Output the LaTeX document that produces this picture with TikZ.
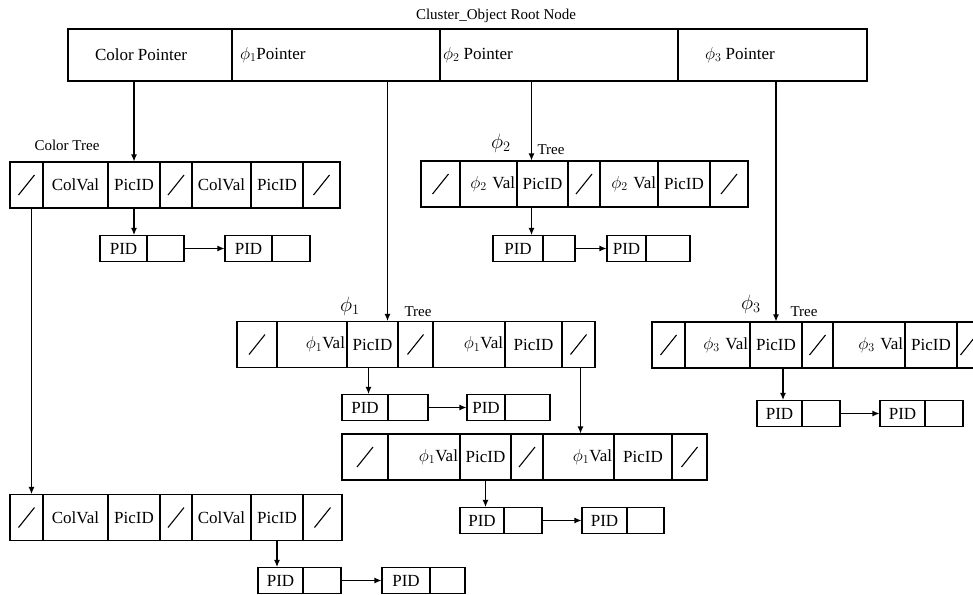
\documentclass[tikz,border=0pt]{standalone}
\usepackage{fontspec}
\setmainfont{Liberation Serif}
\usetikzlibrary{arrows.meta, positioning, calc}

\begin{document}
\begin{tikzpicture}[
    x=1pt, y=-1pt,
    line width=1.1pt,
    rootcell/.style={draw, inner sep=0pt, minimum height=52pt},
    cell/.style={draw, inner xsep=2pt, inner ysep=0pt, minimum height=46pt, align=center, font=\fontsize{17}{20}\selectfont},
    valcell/.style={cell, align=right},
    slashcell/.style={cell, path picture={\draw ([shift={(-8pt,-10pt)}]path picture bounding box.center) -- ([shift={(8pt,10pt)}]path picture bounding box.center);}},
    pidcell/.style={cell, minimum height=26pt},
    txt/.style={inner sep=0pt, font=\fontsize{17}{20}\selectfont},
    lbl/.style={inner sep=0pt, font=\fontsize{15}{18}\selectfont},
    philbl/.style={inner sep=0pt, font=\fontsize{22}{26}\selectfont},
    arrow/.style={-{Latex[length=7pt,width=6pt]}}
  ]
    \useasboundingbox (0,0) rectangle (973,594);

    % Root node
    \node[lbl] (title) at (496,16) {Cluster\_Object Root Node};
    \foreach \i/\xa/\xb in {1/68/232, 2/232/440, 3/440/678, 4/678/867} {
      \pgfmathsetmacro\w{\xb-\xa}
      \node[rootcell, minimum width=\w pt] (root\i) at ({(\xa+\xb)/2}, 55) {};
    }
    \node[txt, anchor=west] at ([xshift=27pt]root1.west) {Color Pointer};
    \node[txt, anchor=west] at ([xshift=8pt]root2.west) {$\phi_1$Pointer};
    \node[txt, anchor=west] at ([xshift=3pt]root3.west) {$\phi_2$ Pointer};
    \node[txt, anchor=west] at ([xshift=27pt]root4.west) {$\phi_3$ Pointer};

    % Color tree
    \foreach \i/\xa/\xb/\sty/\txt in {1/10/43/slashcell/{}, 2/43/108/cell/ColVal, 3/108/160/cell/PicID, 4/160/192/slashcell/{}, 5/192/251/cell/ColVal, 6/251/303/cell/PicID, 7/303/340/slashcell/{}} {
      \pgfmathsetmacro\w{\xb-\xa}
      \pgfmathsetmacro\tw{\xb-\xa-4}
      \node[\sty, minimum width=\w pt, text width=\tw pt] (col\i) at ({(\xa+\xb)/2}, 185) {\txt};
    }
    \foreach \i/\xa/\xb/\txt in {1/100/147/PID, 2/147/184/{}, 3/225/272/PID, 4/272/310/{}} {
      \pgfmathsetmacro\w{\xb-\xa}
      \pgfmathsetmacro\tw{\xb-\xa-4}
      \node[pidcell, minimum width=\w pt, text width=\tw pt] (colp\i) at ({(\xa+\xb)/2}, 248.5) {\txt};
    }

    % Color tree, lower level
    \foreach \i/\xa/\xb/\sty/\txt in {1/10/43/slashcell/{}, 2/43/108/cell/ColVal, 3/108/160/cell/PicID, 4/160/192/slashcell/{}, 5/192/251/cell/ColVal, 6/251/303/cell/PicID, 7/303/342/slashcell/{}} {
      \pgfmathsetmacro\w{\xb-\xa}
      \pgfmathsetmacro\tw{\xb-\xa-4}
      \node[\sty, minimum width=\w pt, text width=\tw pt] (collow\i) at ({(\xa+\xb)/2}, 517.5) {\txt};
    }
    \foreach \i/\xa/\xb/\txt in {1/258/303/PID, 2/303/341/{}, 3/382/430/PID, 4/430/465/{}} {
      \pgfmathsetmacro\w{\xb-\xa}
      \pgfmathsetmacro\tw{\xb-\xa-4}
      \node[pidcell, minimum width=\w pt, text width=\tw pt] (collowp\i) at ({(\xa+\xb)/2}, 580.5) {\txt};
    }

    % Phi2 tree
    \foreach \i/\xa/\xb/\sty/\txt in {1/421/460/slashcell/{}, 2/460/517/valcell/{$\phi_2$ Val}, 3/517/568/cell/PicID, 4/568/600/slashcell/{}, 5/600/658/valcell/{$\phi_2$ Val}, 6/658/710/cell/PicID, 7/710/748/slashcell/{}} {
      \pgfmathsetmacro\w{\xb-\xa}
      \pgfmathsetmacro\tw{\xb-\xa-4}
      \node[\sty, minimum width=\w pt, text width=\tw pt] (phitwo\i) at ({(\xa+\xb)/2}, 184) {\txt};
    }
    \foreach \i/\xa/\xb/\txt in {1/493/543/PID, 2/543/575/{}, 3/607/646/PID, 4/646/690/{}} {
      \pgfmathsetmacro\w{\xb-\xa}
      \pgfmathsetmacro\tw{\xb-\xa-4}
      \node[pidcell, minimum width=\w pt, text width=\tw pt] (phitwop\i) at ({(\xa+\xb)/2}, 248.5) {\txt};
    }

    % Phi1 tree
    \foreach \i/\xa/\xb/\sty/\txt in {1/237/277/slashcell/{}, 2/277/347/valcell/{$\phi_1$Val}, 3/347/398/cell/PicID, 4/398/433/slashcell/{}, 5/433/505/valcell/{$\phi_1$Val}, 6/505/562/cell/PicID, 7/562/595/slashcell/{}} {
      \pgfmathsetmacro\w{\xb-\xa}
      \pgfmathsetmacro\tw{\xb-\xa-4}
      \node[\sty, minimum width=\w pt, text width=\tw pt] (phione\i) at ({(\xa+\xb)/2}, 344.5) {\txt};
    }
    \foreach \i/\xa/\xb/\txt in {1/342/388/PID, 2/388/428/{}, 3/467/505/PID, 4/505/550/{}} {
      \pgfmathsetmacro\w{\xb-\xa}
      \pgfmathsetmacro\tw{\xb-\xa-4}
      \node[pidcell, minimum width=\w pt, text width=\tw pt] (phionep\i) at ({(\xa+\xb)/2}, 407.5) {\txt};
    }

    % Phi1 tree, lower level
    \foreach \i/\xa/\xb/\sty/\txt in {1/342/388/slashcell/{}, 2/388/460/valcell/{$\phi_1$Val}, 3/460/511/cell/PicID, 4/511/543/slashcell/{}, 5/543/614/valcell/{$\phi_1$Val}, 6/614/672/cell/PicID, 7/672/707/slashcell/{}} {
      \pgfmathsetmacro\w{\xb-\xa}
      \pgfmathsetmacro\tw{\xb-\xa-4}
      \node[\sty, minimum width=\w pt, text width=\tw pt] (phionelow\i) at ({(\xa+\xb)/2}, 457) {\txt};
    }
    \foreach \i/\xa/\xb/\txt in {1/460/504/PID, 2/504/542/{}, 3/582/627/PID, 4/627/664/{}} {
      \pgfmathsetmacro\w{\xb-\xa}
      \pgfmathsetmacro\tw{\xb-\xa-4}
      \node[pidcell, minimum width=\w pt, text width=\tw pt] (phionelowp\i) at ({(\xa+\xb)/2}, 520.5) {\txt};
    }

    % Phi3 tree
    \foreach \i/\xa/\xb/\sty/\txt in {1/652/685/slashcell/{}, 2/685/750/valcell/{$\phi_3$ Val}, 3/750/802/cell/PicID, 4/802/833/slashcell/{}, 5/833/905/valcell/{$\phi_3$ Val}, 6/905/957/cell/PicID, 7/957/980/slashcell/{}} {
      \pgfmathsetmacro\w{\xb-\xa}
      \pgfmathsetmacro\tw{\xb-\xa-4}
      \node[\sty, minimum width=\w pt, text width=\tw pt] (phithree\i) at ({(\xa+\xb)/2}, 345) {\txt};
    }
    \foreach \i/\xa/\xb/\txt in {1/757/802/PID, 2/802/840/{}, 3/880/925/PID, 4/925/963/{}} {
      \pgfmathsetmacro\w{\xb-\xa}
      \pgfmathsetmacro\tw{\xb-\xa-4}
      \node[pidcell, minimum width=\w pt, text width=\tw pt] (phithreep\i) at ({(\xa+\xb)/2}, 413.5) {\txt};
    }

    % Tree labels
    \node[lbl] (coltree) at (67,145) {Color Tree};
    \node[philbl] (phitwolbl) at (501,143) {$\phi_2$};
    \node[lbl] (phitwotree) at (551,150) {Tree};
    \node[philbl] (phionelbl) at (350,306) {$\phi_1$};
    \node[lbl] (phionetree) at (418,312) {Tree};
    \node[philbl] (phithreelbl) at (751,304) {$\phi_3$};
    \node[lbl] (phithreetree) at (804,312) {Tree};

    % Pointers from the root node
    \draw[arrow] (col3.north |- root1.south) -- (col3.north);
    \draw[arrow] ([xshift=15pt]phione3.north |- root2.south) -- ([xshift=15pt]phione3.north);
    \draw[arrow] ([xshift=-11pt]phitwo3.north |- root3.south) -- ([xshift=-11pt]phitwo3.north);
    \draw[arrow] (phithree3.north |- root4.south) -- (phithree3.north);

    % PicID lists
    \draw[arrow] (col3.south) -- (col3.south |- colp1.north);
    \draw[arrow] (colp2.east) -- (colp3.west);
    \draw[arrow] (collow6.south) -- (collow6.south |- collowp1.north);
    \draw[arrow] (collowp2.east) -- (collowp3.west);
    \draw[arrow] ([xshift=-11pt]phitwo3.south) -- ([xshift=-11pt]phitwo3.south |- phitwop1.north);
    \draw[arrow] (phitwop2.east) -- (phitwop3.west);
    \draw[arrow] ([xshift=-4pt]phione3.south) -- ([xshift=-4pt]phione3.south |- phionep1.north);
    \draw[arrow] (phionep2.east) -- (phionep3.west);
    \draw[arrow] (phionelow3.south) -- (phionelow3.south |- phionelowp1.north);
    \draw[arrow] (phionelowp2.east) -- (phionelowp3.west);
    \draw[arrow] ([xshift=7pt]phithree3.south) -- ([xshift=7pt]phithree3.south |- phithreep1.north);
    \draw[arrow] (phithreep2.east) -- (phithreep3.west);

    % Links to lower levels
    \draw[arrow] ([xshift=5pt]col1.south) -- ([xshift=5pt]col1.south |- collow1.north);
    \draw[arrow] ([xshift=2pt]phione7.south) -- ([xshift=2pt]phione7.south |- phionelow5.north);
  \end{tikzpicture}
\end{document}
